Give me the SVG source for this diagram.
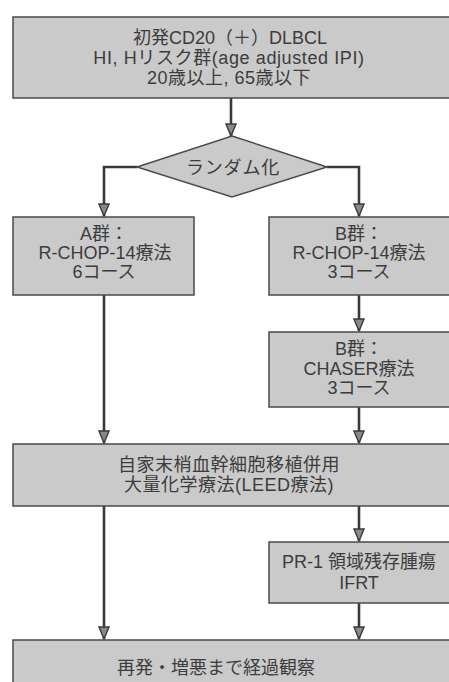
<svg xmlns="http://www.w3.org/2000/svg" width="449" height="682" viewBox="0 0 449 682">
<defs>
<style>
.box{fill:#cacaca;stroke:#4a4a4a;stroke-width:1.5}
.t{font-family:"Liberation Sans","Noto Sans CJK JP",sans-serif;font-size:18px;fill:#3c3c3c;text-anchor:middle}
.c{fill:none;stroke:#3a3a3a;stroke-width:2.6}
</style>
<marker id="ah" markerUnits="userSpaceOnUse" markerWidth="14" markerHeight="12" viewBox="0 0 14 12" refX="13" refY="6" orient="auto">
<path d="M1,1 L1,11 L13,6 Z" fill="#8a8a8a" stroke="#3a3a3a" stroke-width="1.4"/>
</marker>
</defs>
<rect width="449" height="682" fill="#ffffff"/>
<g id="connectors">
<line class="c" x1="231" y1="98" x2="231" y2="136" marker-end="url(#ah)"/>
<polyline class="c" points="137,167 104,167 104,216" marker-end="url(#ah)"/>
<polyline class="c" points="327,167 359,167 359,216" marker-end="url(#ah)"/>
<line class="c" x1="359" y1="295" x2="359" y2="331" marker-end="url(#ah)"/>
<line class="c" x1="104" y1="295" x2="104" y2="443" marker-end="url(#ah)"/>
<line class="c" x1="359" y1="407" x2="359" y2="443" marker-end="url(#ah)"/>
<line class="c" x1="104" y1="506" x2="104" y2="639" marker-end="url(#ah)"/>
<line class="c" x1="359" y1="506" x2="359" y2="541" marker-end="url(#ah)"/>
<line class="c" x1="359" y1="603" x2="359" y2="639" marker-end="url(#ah)"/>
</g>
<g id="start">
<rect class="box" x="13" y="17" width="440" height="81"/>
<text class="t" x="230" y="44">初発CD20（＋）DLBCL</text>
<text class="t" x="229" y="64" letter-spacing="0.6">HI, Hリスク群(age adjusted IPI)</text>
<text class="t" x="229" y="84" letter-spacing="0.5">20歳以上, 65歳以下</text>
</g>
<g id="random">
<polygon class="box" points="232,136 327,167 232,197 137,167"/>
<text class="t" x="233" y="174" letter-spacing="0.8">ランダム化</text>
</g>
<g id="armA">
<rect class="box" x="13" y="217" width="181" height="78"/>
<text class="t" x="104" y="240">A群：</text>
<text class="t" x="105" y="259">R-CHOP-14療法</text>
<text class="t" x="104" y="278">6コース</text>
</g>
<g id="armB1">
<rect class="box" x="269" y="217" width="184" height="78"/>
<text class="t" x="359" y="240">B群：</text>
<text class="t" x="359" y="259">R-CHOP-14療法</text>
<text class="t" x="359" y="278">3コース</text>
</g>
<g id="armB2">
<rect class="box" x="269" y="332" width="184" height="75"/>
<text class="t" x="359" y="355">B群：</text>
<text class="t" x="359" y="375">CHASER療法</text>
<text class="t" x="359" y="394">3コース</text>
</g>
<g id="leed">
<rect class="box" x="13" y="444" width="440" height="62"/>
<text class="t" x="229" y="471" letter-spacing="0.5">自家末梢血幹細胞移植併用</text>
<text class="t" x="229" y="491" letter-spacing="0.5">大量化学療法(LEED療法)</text>
</g>
<g id="ifrt">
<rect class="box" x="269" y="542" width="184" height="61"/>
<text class="t" x="359" y="568">PR-1 領域残存腫瘍</text>
<text class="t" x="359" y="589">IFRT</text>
</g>
<g id="follow">
<rect class="box" x="13" y="640" width="440" height="50"/>
<text class="t" x="216" y="674">再発・増悪まで経過観察</text>
</g>
</svg>
